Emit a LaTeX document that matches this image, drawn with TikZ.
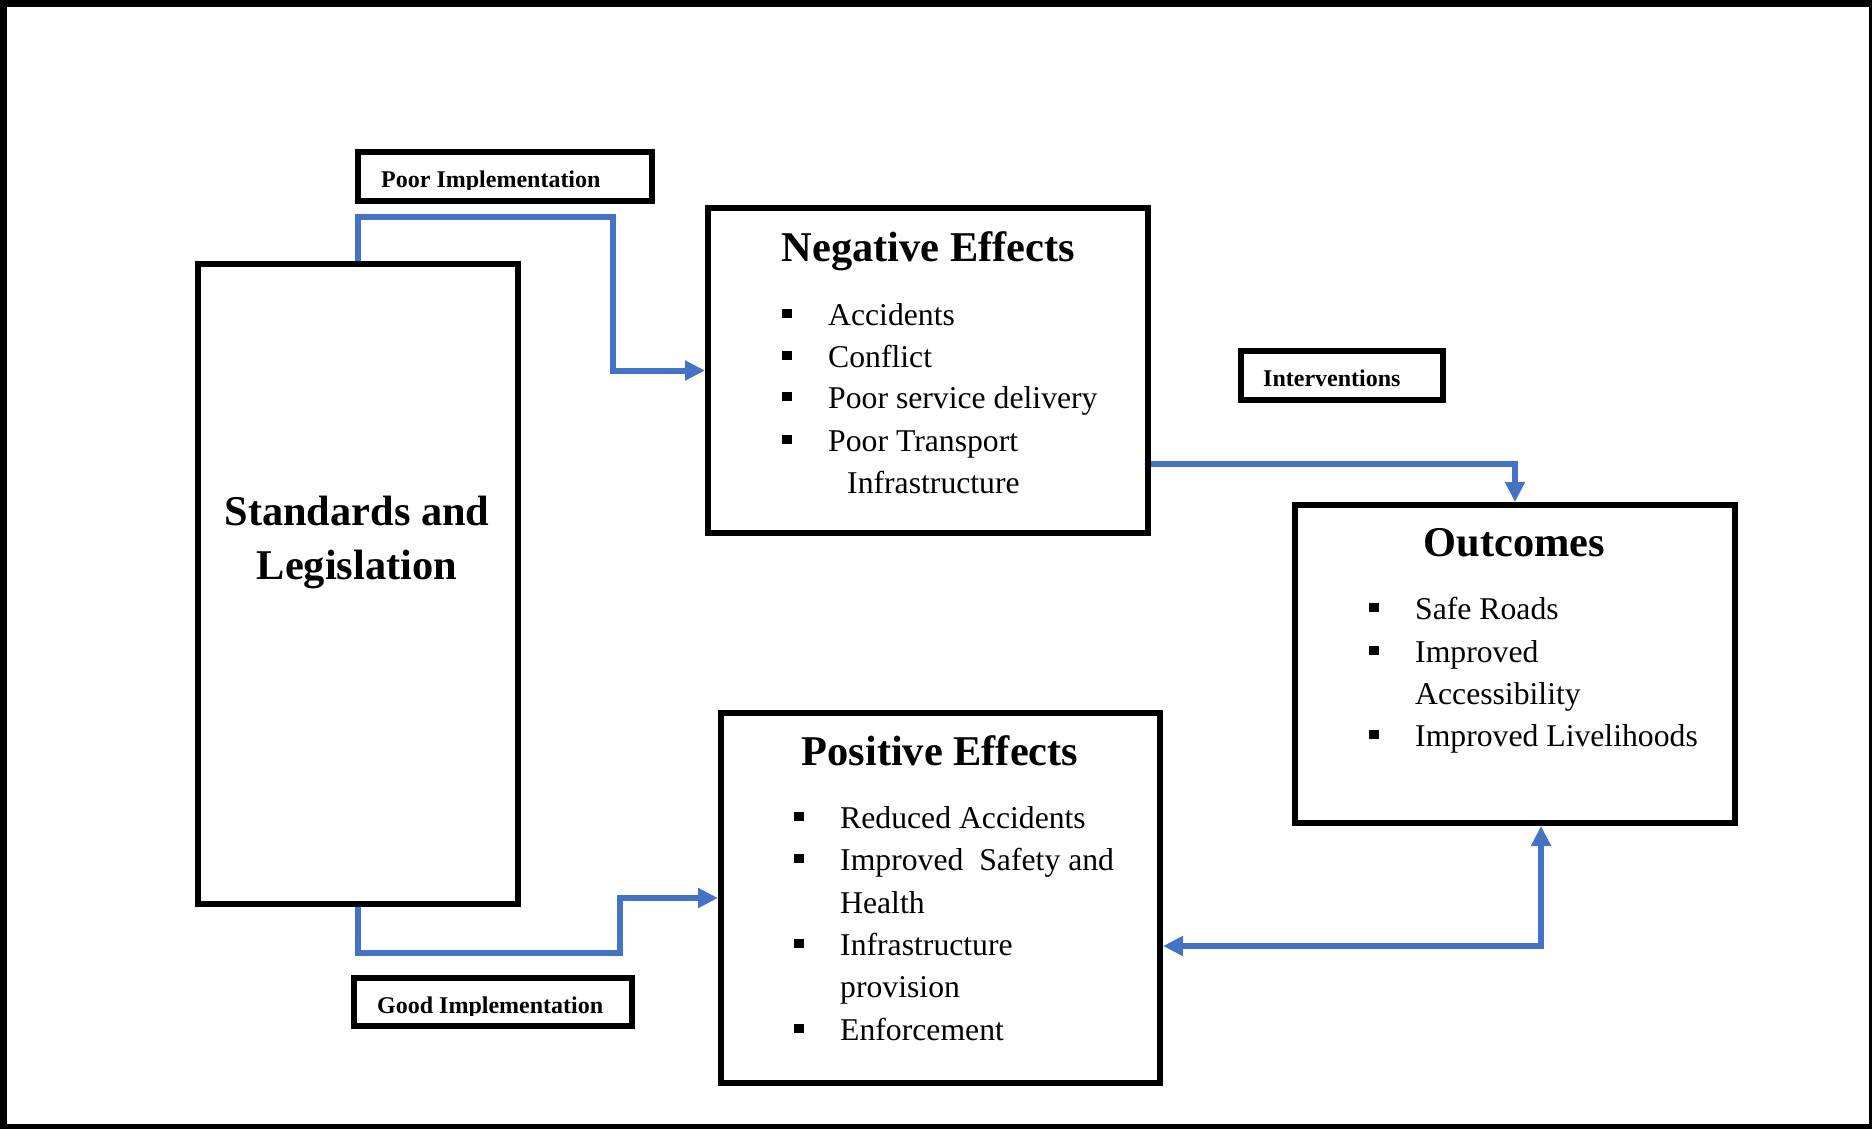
\documentclass[tikz,border=0pt]{standalone}
\usepackage{fontspec}
\setmainfont{Liberation Serif}
\usetikzlibrary{arrows.meta}
\definecolor{conblue}{HTML}{4472C4}
\newcommand{\bul}{\makebox[46pt][l]{\rule[7pt]{9.5pt}{9.5pt}}}
\begin{document}
\begin{tikzpicture}[x=1pt,y=-1pt,
  box/.style={draw=black,line width=6pt,fill=white,rectangle,inner sep=0pt},
  conn/.style={draw=conblue,line width=6pt,-{Triangle[length=20pt,width=19pt]}},
  conntwo/.style={draw=conblue,line width=6pt,{Triangle[length=20pt,width=19pt]}-{Triangle[length=20pt,width=19pt]}},
  body/.style={anchor=base west,inner sep=0pt,font=\fontsize{31.7}{38}\selectfont},
  ttl/.style={anchor=base,inner sep=0pt,font=\fontsize{42.4}{45}\selectfont\bfseries},
  lbltxt/.style={anchor=base west,inner sep=0pt,font=\fontsize{24}{28}\selectfont\bfseries}]
\useasboundingbox (0,0) rectangle (1872,1129);
\draw[line width=7pt] (3.5,3.5) rectangle (1872.5,1127.5);

% Standards
\node[box,minimum width=320pt,minimum height=640pt] (std) at (358,584) {};
\node[ttl] (stdt1) at (357,525) {Standards and};
\node[ttl] (stdt2) at (357,579) {Legislation};

% Negative effects
\node[box,minimum width=440pt,minimum height=325pt] (neg) at (928,370.5) {};
\node[ttl] (negt) at (928.5,261) {Negative Effects};
\node[body] (n1) at (782,325) {\bul Accidents};
\node[body] (n2) at (782,367) {\bul Conflict};
\node[body] (n3) at (782,408) {\bul Poor service delivery};
\node[body] (n4) at (782,451) {\bul Poor Transport};
\node[body] (n5) at (847,493) {Infrastructure};

% Positive effects
\node[box,minimum width=439pt,minimum height=370pt] (pos) at (940.5,898) {};
\node[ttl] (post) at (940,765) {Positive Effects};
\node[body] (p1) at (794,828) {\bul Reduced Accidents};
\node[body] (p2) at (794,870) {\bul Improved\hspace{8pt} Safety and};
\node[body] (p3) at (840,913) {Health};
\node[body] (p4) at (794,955) {\bul Infrastructure};
\node[body] (p5) at (840,997) {provision};
\node[body] (p6) at (794,1040) {\bul Enforcement};

% Outcomes
\node[box,minimum width=440pt,minimum height=318pt] (out) at (1515,664) {};
\node[ttl] (outt) at (1514.5,556) {Outcomes};
\node[body] (o1) at (1369,619) {\bul Safe Roads};
\node[body] (o2) at (1369,662) {\bul Improved};
\node[body] (o3) at (1415,704) {Accessibility};
\node[body] (o4) at (1369,746) {\bul Improved Livelihoods};

% Label boxes
\node[box,minimum width=294pt,minimum height=49pt] (poor) at (505,176.5) {};
\begin{scope}
  \clip (360,155) rectangle (650,189);
  \node[lbltxt] (poort) at (381,187) {Poor Implementation};
\end{scope}
\node[box,minimum width=278pt,minimum height=48pt] (good) at (493,1002) {};
\begin{scope}
  \clip (356,980) rectangle (630,1015);
  \node[lbltxt] (goodt) at (377,1013) {Good Implementation};
\end{scope}
\node[box,minimum width=202pt,minimum height=49pt] (intv) at (1341.5,375) {};
\node[lbltxt] (intvt) at (1263,386) {Interventions};

% Connectors
\coordinate (c1) at (613,217);
\draw[conn] (std.north) |- (c1) |- (neg.west);
\coordinate (c2) at (620,953);
\draw[conn] (std.south) |- (c2) |- (pos.west);
\coordinate (c3) at (1515,463.5);
\draw[conn] (neg.east |- c3) -| (out.north);
\coordinate (c4) at (1541,946);
\draw[conntwo] (pos.east |- c4) -| (out.south -| c4);
\end{tikzpicture}
\end{document}
